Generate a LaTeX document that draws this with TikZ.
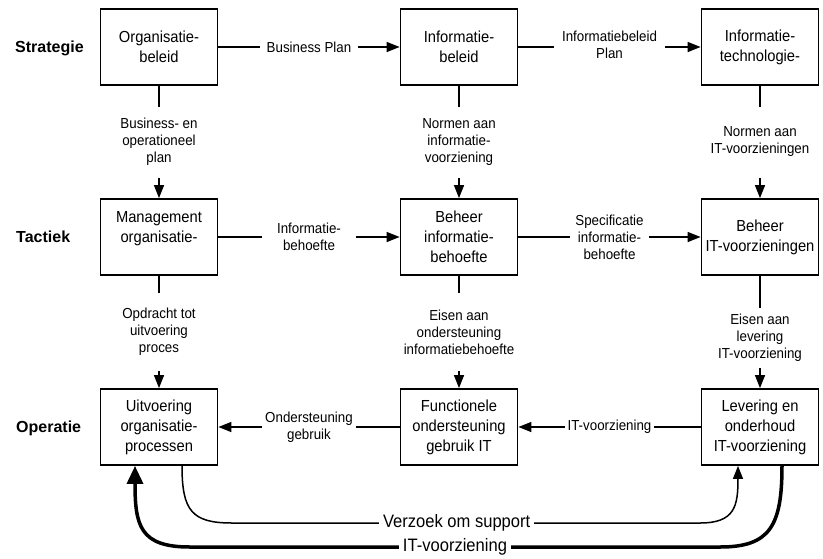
\documentclass[tikz,border=0pt]{standalone}
\usepackage{fontspec}
\setmainfont{Liberation Sans}[FakeStretch=0.92]
\newfontfamily\rowfont{Liberation Sans}
\usetikzlibrary{arrows.meta}
\begin{document}
\begin{tikzpicture}[x=1pt,y=-1pt,
  box/.style={draw, line width=1.8pt, minimum width=117pt, minimum height=76pt, align=center, inner sep=2pt, font=\fontsize{16}{20}\selectfont},
  lab/.style={fill=white, align=center, font=\fontsize{14.5}{17}\selectfont, inner sep=0pt},
  conn/.style={line width=1.5pt, -{Triangle[length=13pt,width=10pt]}},
  rowlab/.style={anchor=base west, font=\rowfont\bfseries\fontsize{16}{19}\selectfont, inner sep=0pt},
  big/.style={fill=white, font=\fontsize{18}{21}\selectfont, inner ysep=1pt, inner xsep=4pt}
]
\useasboundingbox (0,0) rectangle (823,558);
\node[box] (A1) at (159,47) {Organisatie-\\beleid};
\node[box] (A2) at (459,47) {Informatie-\\beleid};
\node[box] (A3) at (760,47) {Informatie-\\technologie-};
\node[box] (B1) at (159,237) {Management\\organisatie-\\\phantom{x}};
\node[box] (B2) at (459,237) {Beheer\\informatie-\\behoefte};
\node[box] (B3) at (760,237) {Beheer\\IT-voorzieningen};
\node[box] (C1) at (159,427) {Uitvoering\\organisatie-\\processen};
\node[box] (C2) at (459,427) {Functionele\\ondersteuning\\gebruik IT};
\node[box] (C3) at (760,427) {Levering en\\onderhoud\\IT-voorziening};
\node[rowlab] (S) at (15,52) {Strategie};
\node[rowlab] (T) at (16,242) {Tactiek};
\node[rowlab] (O) at (16,432) {Operatie};
\draw[conn] (A1) -- node[lab, inner xsep=7pt]{Business Plan} (A2);
\draw[conn] (A2) -- node[lab, inner xsep=8pt, yshift=2pt]{Informatiebeleid\\Plan} (A3);
\draw[conn] (A1) -- node[lab, minimum height=71pt]{Business- en\\operationeel\\plan} (B1);
\draw[conn] (A2) -- node[lab, minimum height=71pt]{Normen aan\\informatie-\\voorziening} (B2);
\draw[conn] (A3) -- node[lab, minimum height=71pt]{Normen aan\\IT-voorzieningen} (B3);
\draw[conn] (B1) -- node[lab, inner xsep=15pt]{Informatie-\\behoefte} (B2);
\draw[conn] (B2) -- node[lab, inner xsep=5pt]{Specificatie\\informatie-\\behoefte} (B3);
\draw[conn] (B1) -- node[lab, minimum height=78pt]{Opdracht tot\\uitvoering\\proces} (C1);
\draw[conn] (B2) -- node[lab, minimum height=78pt]{Eisen aan\\ondersteuning\\informatiebehoefte} (C2);
\draw[conn] (B3) -- node[lab, minimum height=60pt, pos=0.55]{Eisen aan\\levering\\IT-voorziening} (C3);
\draw[conn] (C2) -- node[lab, inner xsep=3pt]{Ondersteuning\\gebruik} (C1);
\draw[conn] (C3) -- node[lab, inner xsep=3pt]{IT-voorziening} (C2);
\draw[line width=1.5pt, -{Triangle[length=13pt,width=10pt]}] ([xshift=23pt]C1.south) .. controls +(0,45) and +(-40,0) .. (232,523) -- node[big, pos=0.48]{Verzoek om support} (700,523) .. controls +(35,0) and +(0,40) .. ([xshift=-22pt]C3.south);
\draw[line width=3.5pt, -{Triangle[length=18pt,width=16pt]}] ([xshift=22pt]C3.south) .. controls +(0,60) and +(50,0) .. (720,547) -- node[big]{IT-voorziening} (190,547) .. controls +(-50,0) and +(0,60) .. ([xshift=-24pt]C1.south);
\end{tikzpicture}
\end{document}
